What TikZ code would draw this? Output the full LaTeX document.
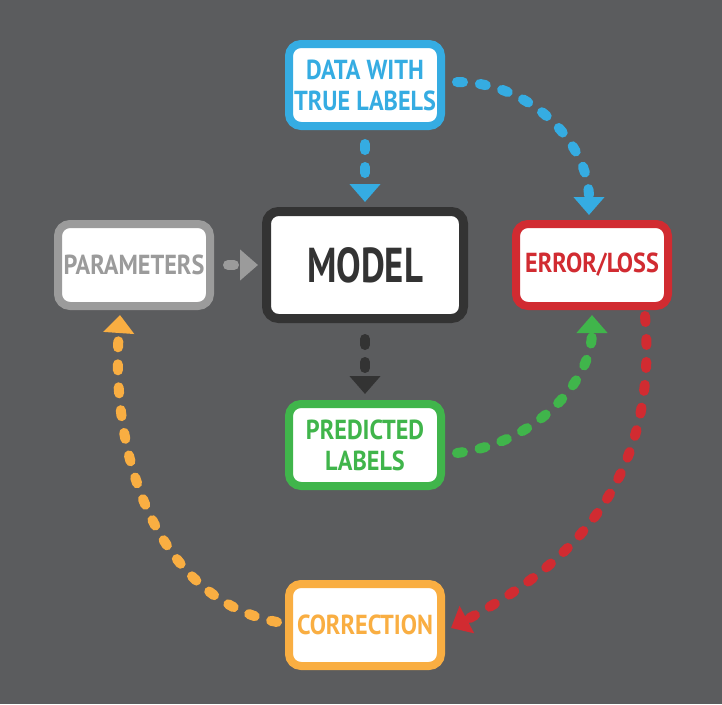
\documentclass[tikz,border=0pt]{standalone}
\usepackage{fontspec}
\setmainfont{PT Sans}[FakeStretch=0.88]
\newfontfamily\bigfont{PT Sans}[FakeStretch=0.75]
\usetikzlibrary{arrows.meta}
\definecolor{bg}{HTML}{5B5C5E}
\definecolor{cblue}{HTML}{35ACE2}
\definecolor{cred}{HTML}{D12B31}
\definecolor{cgreen}{HTML}{40B54B}
\definecolor{corange}{HTML}{F9AE42}
\definecolor{cgray}{HTML}{9B9B9B}
\definecolor{cdark}{HTML}{333333}
\tikzset{
  box/.style={draw=#1, text=#1, fill=white, line width=8pt, rounded corners=12pt,
    minimum width=152pt, minimum height=82pt, align=center, inner sep=0pt,
    font=\bfseries\fontsize{27.5}{31}\selectfont},
  conn/.style={draw=#1, line width=10pt, line cap=round, dash pattern=on 6pt off 17pt,
    -{Triangle[width=30pt,length=18pt]}, color=#1}
}
\begin{document}
\begin{tikzpicture}[x=1pt,y=-1pt]
\path[fill=bg] (0,0) rectangle (722,704);
\useasboundingbox (0,0) rectangle (722,704);

\node[box=cblue] (data) at (365,85) {DATA WITH\\TRUE LABELS};
\node[box=cdark, line width=9pt, minimum width=197pt, minimum height=107pt,
      font=\bigfont\bfseries\fontsize{49}{51}\selectfont] (model) at (365,265) {MODEL};
\node[box=cgray] (params) at (134,265) {PARAMETERS};
\node[box=cred] (error) at (592,265) {ERROR/LOSS};
\node[box=cgreen] (pred) at (365,445) {PREDICTED\\LABELS};
\node[box=corange] (corr) at (365,625) {CORRECTION};

% data -> model
\draw[conn=cblue, shorten <=14pt, shorten >=5pt] (data.south) -- (model.north);
% data -> error
\draw[conn=cblue, shorten >=5pt] ([xshift=12pt,yshift=3pt]data.east)
  .. controls +(75,0) and +(0,-75) .. ([xshift=-3pt]error.north);
% params -> model
\draw[conn=cgray, shorten <=14pt, shorten >=4pt] (params.east) -- (model.west);
% model -> pred
\draw[conn=cdark, shorten <=16pt, shorten >=6pt] (model.south) -- (pred.north);
% pred -> error
\draw[conn=cgreen, shorten >=5pt] ([xshift=12pt,yshift=-8pt]pred.east)
  .. controls +(80,-10) and +(0,70) .. (error.south);
% error -> correction
\draw[conn=cred] ([xshift=53pt,yshift=-6pt]error.south)
  .. controls (660,490) and (560,570) .. ([xshift=6pt,yshift=-3pt]corr.east);
% correction -> params
\draw[conn=corange] ([xshift=-8pt,yshift=3pt]corr.west)
  .. controls (160,600) and (110,460) .. ([xshift=-14pt,yshift=-5pt]params.south);
\end{tikzpicture}
\end{document}
